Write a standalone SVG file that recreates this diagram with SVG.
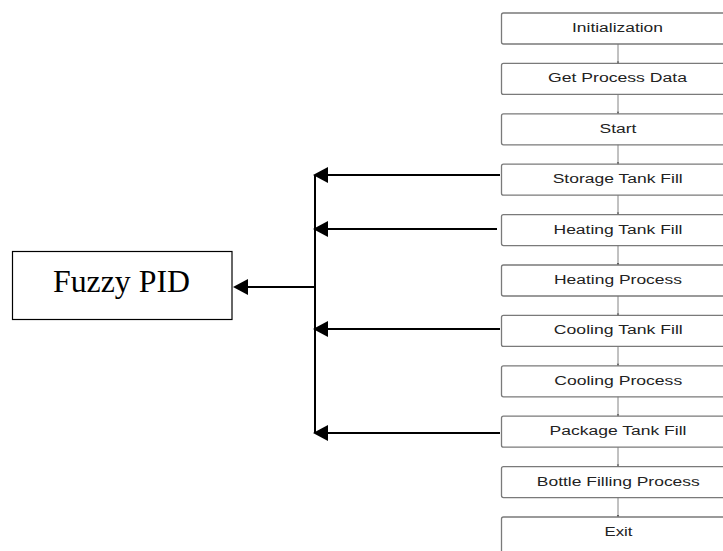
<svg xmlns="http://www.w3.org/2000/svg" width="723" height="551" viewBox="0 0 723 551">
<style>
.step rect{fill:#fff;stroke:#7a7a7a;stroke-width:1.3}
.step text{font-family:"Liberation Sans",Arial,sans-serif;font-size:12.5px;fill:#222;text-anchor:middle}
.flow{stroke:#777;stroke-width:0.9;fill:none}
.ctl{stroke:#000;stroke-width:2;fill:none}
.head{fill:#000}
.fh{fill:#555}
</style>
<rect width="723" height="551" fill="#fff"/>
<g id="fuzzy">
<rect x="12.5" y="251.5" width="219.5" height="68" fill="#fff" stroke="#000" stroke-width="1.2"/>
<text x="121.5" y="291.7" font-family="Liberation Serif,'Times New Roman',serif" font-size="31" textLength="137" lengthAdjust="spacingAndGlyphs" text-anchor="middle" fill="#000">Fuzzy PID</text>
</g>
<g id="n1" class="step"><rect x="501.5" y="13" width="234" height="31" rx="2"/><text x="617.5" y="32" textLength="91" lengthAdjust="spacingAndGlyphs">Initialization</text></g>
<g id="n2" class="step"><rect x="501.5" y="63.4" width="234" height="31" rx="2"/><text x="617.5" y="82.4" textLength="139" lengthAdjust="spacingAndGlyphs">Get Process Data</text></g>
<g id="n3" class="step"><rect x="501.5" y="113.8" width="234" height="31" rx="2"/><text x="618" y="132.8" textLength="37" lengthAdjust="spacingAndGlyphs">Start</text></g>
<g id="n4" class="step"><rect x="501.5" y="164.2" width="234" height="31" rx="2"/><text x="617.7" y="183.2" textLength="130" lengthAdjust="spacingAndGlyphs">Storage Tank Fill</text></g>
<g id="n5" class="step"><rect x="501.5" y="214.6" width="234" height="31" rx="2"/><text x="618" y="233.6" textLength="129" lengthAdjust="spacingAndGlyphs">Heating Tank Fill</text></g>
<g id="n6" class="step"><rect x="501.5" y="265" width="234" height="31" rx="2"/><text x="618" y="284" textLength="128" lengthAdjust="spacingAndGlyphs">Heating Process</text></g>
<g id="n7" class="step"><rect x="501.5" y="315.4" width="234" height="31" rx="2"/><text x="618.3" y="334.4" textLength="129" lengthAdjust="spacingAndGlyphs">Cooling Tank Fill</text></g>
<g id="n8" class="step"><rect x="501.5" y="365.8" width="234" height="31" rx="2"/><text x="618.2" y="384.8" textLength="128" lengthAdjust="spacingAndGlyphs">Cooling Process</text></g>
<g id="n9" class="step"><rect x="501.5" y="416.2" width="234" height="31" rx="2"/><text x="618" y="435.2" textLength="137" lengthAdjust="spacingAndGlyphs">Package Tank Fill</text></g>
<g id="n10" class="step"><rect x="501.5" y="466.6" width="234" height="31" rx="2"/><text x="618.3" y="485.6" textLength="163" lengthAdjust="spacingAndGlyphs">Bottle Filling Process</text></g>
<g id="n11" class="step"><rect x="501.5" y="517" width="234" height="40" rx="2"/><text x="618.5" y="536" textLength="28" lengthAdjust="spacingAndGlyphs">Exit</text></g>
<g id="connectors">
<path class="flow" d="M618 44V63.4M618 94.4V113.8M618 144.8V164.2M618 195.2V214.6M618 245.6V265M618 296V315.4M618 346.4V365.8M618 396.8V416.2M618 447.2V466.6M618 497.6V517"/>
<g class="fh">
<path d="M616.8 61.4h2.4l-1.2 2z"/><path d="M616.8 111.8h2.4l-1.2 2z"/><path d="M616.8 162.2h2.4l-1.2 2z"/><path d="M616.8 212.6h2.4l-1.2 2z"/><path d="M616.8 263h2.4l-1.2 2z"/><path d="M616.8 313.4h2.4l-1.2 2z"/><path d="M616.8 363.8h2.4l-1.2 2z"/><path d="M616.8 414.2h2.4l-1.2 2z"/><path d="M616.8 464.6h2.4l-1.2 2z"/><path d="M616.8 515h2.4l-1.2 2z"/>
</g>
<path class="ctl" d="M500 175H326M497 229H326M500 329H326M500 433H326M315 175V433M315 287H246"/>
<g class="head">
<path d="M313 175l15-8v16z"/>
<path d="M313 229l15-8v16z"/>
<path d="M313 329l15-8v16z"/>
<path d="M313 433l15-8v16z"/>
<path d="M233 287l15-8v16z"/>
</g>
</g>
</svg>
